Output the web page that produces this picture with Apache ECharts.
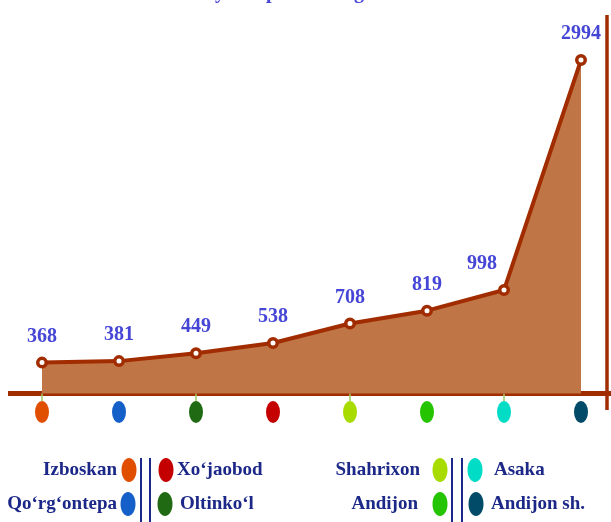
<!DOCTYPE html>
<html>
<head>
<meta charset="utf-8">
<script src="https://cdn.jsdelivr.net/npm/echarts@6/dist/echarts.min.js"></script>
<style>
  html, body { margin: 0; padding: 0; background: #ffffff; }
  #chart { width: 611px; height: 522px; }
</style>
</head>
<body>
<div id="chart"></div>
<script>
// Districts of Andijan region, in drawing order
const categories = ['Izboskan', 'Qo‘rg‘ontepa', 'Oltinko‘l', 'Xo‘jaobod', 'Shahrixon', 'Andijon', 'Asaka', 'Andijon sh.'];
// Values per district
const values = [368, 381, 449, 538, 708, 819, 998, 2994];
// Marker colour for each district
const dotColors = ['#e04e00', '#1560c8', '#216a14', '#c40000', '#a8dc00', '#24c400', '#00dcc6', '#014a68'];

const titleText = '2023 yil 1 aprel holatiga';

const lineColor = '#a02c00';
const areaColor = '#bf7545';
const labelColor = '#4646d6';
const legendColor = '#1c2888';
const serif = '"Liberation Serif", "DejaVu Serif", serif';

const chart = echarts.init(document.getElementById('chart'), null, { renderer: 'canvas' });

// Legend entries: category index, text anchor, marker centre, row
const legendLayout = [
  { idx: 0, textRight: 117, dot: 129, y: 470 },
  { idx: 1, textRight: 117, dot: 128, y: 504 },
  { idx: 3, textLeft: 177, dot: 166, y: 470 },
  { idx: 2, textLeft: 180, dot: 165, y: 504 },
  { idx: 4, textRight: 420, dot: 440, y: 470 },
  { idx: 5, textRight: 418, dot: 440, y: 504 },
  { idx: 6, textLeft: 494, dot: 475, y: 470 },
  { idx: 7, textLeft: 491, dot: 476, y: 504 }
];

const graphics = [];
// base line running under the whole plot
graphics.push({
  type: 'line',
  z: 0,
  shape: { x1: 8, y1: 393.5, x2: 611, y2: 393.5 },
  style: { stroke: lineColor, lineWidth: 5 }
});
legendLayout.forEach(function (e) {
  graphics.push({
    type: 'ellipse',
    shape: { cx: e.dot, cy: e.y, rx: 7.5, ry: 12 },
    style: { fill: dotColors[e.idx] }
  });
  const right = e.textRight !== undefined;
  graphics.push({
    type: 'text',
    x: right ? e.textRight : e.textLeft,
    y: e.y,
    style: {
      text: categories[e.idx],
      fill: legendColor,
      font: 'bold 19px ' + serif,
      textAlign: right ? 'right' : 'left',
      textVerticalAlign: 'middle'
    }
  });
});
// double separators between legend columns
[141, 150, 452, 462].forEach(function (x) {
  graphics.push({
    type: 'line',
    shape: { x1: x, y1: 458, x2: x, y2: 522 },
    style: { stroke: legendColor, lineWidth: 2 }
  });
});
// right-hand frame line
graphics.push({
  type: 'line',
  shape: { x1: 607, y1: 15, x2: 607, y2: 410 },
  style: { stroke: lineColor, lineWidth: 3.5 }
});
// heading (runs off the top edge)
graphics.push({
  type: 'text',
  x: 272,
  y: 3,
  style: {
    text: titleText,
    fill: labelColor,
    font: 'bold 20px ' + serif,
    textAlign: 'center',
    textVerticalAlign: 'bottom'
  }
});

// the label of the second-to-last point sits to its left, clear of the steep segment
const lineData = values.map(function (v, i) {
  if (i === values.length - 2) {
    return { value: v, label: { offset: [-22, 0] } };
  }
  return v;
});

const option = {
  backgroundColor: '#ffffff',
  animation: false,
  grid: [
    { left: 42, right: 30, top: 15, height: 378.5 },
    { left: 42, right: 30, top: 400, height: 24 }
  ],
  xAxis: [
    {
      type: 'category',
      gridIndex: 0,
      data: categories,
      boundaryGap: false,
      axisLine: { show: true, lineStyle: { color: lineColor, width: 5 } },
      axisTick: { show: true, length: 8, lineStyle: { color: '#9ccc66', width: 1.5 } },
      axisLabel: { show: false },
      splitLine: { show: false }
    },
    {
      type: 'category',
      gridIndex: 1,
      data: categories,
      boundaryGap: false,
      axisLine: { show: false },
      axisTick: { show: false },
      axisLabel: { show: false }
    }
  ],
  yAxis: [
    { type: 'value', gridIndex: 0, min: 100, max: 3385, show: false },
    { type: 'value', gridIndex: 1, min: 0, max: 1, show: false }
  ],
  series: [
    {
      type: 'line',
      xAxisIndex: 0,
      yAxisIndex: 0,
      data: lineData,
      z: 3,
      lineStyle: { color: lineColor, width: 4 },
      areaStyle: { color: areaColor, opacity: 1, origin: 'start' },
      symbol: 'circle',
      symbolSize: 8.5,
      showAllSymbol: true,
      itemStyle: { color: '#ffffff', borderColor: lineColor, borderWidth: 3.5 },
      label: {
        show: true,
        position: 'top',
        distance: 10,
        color: labelColor,
        fontFamily: serif,
        fontWeight: 'bold',
        fontSize: 20
      }
    },
    {
      type: 'scatter',
      xAxisIndex: 1,
      yAxisIndex: 1,
      symbol: 'circle',
      symbolSize: [14, 22],
      data: categories.map(function (c, i) {
        return { value: [c, 0.5], itemStyle: { color: dotColors[i], opacity: 1 } };
      }),
      silent: true
    }
  ],
  graphic: graphics
};

chart.setOption(option);
</script>
</body>
</html>
